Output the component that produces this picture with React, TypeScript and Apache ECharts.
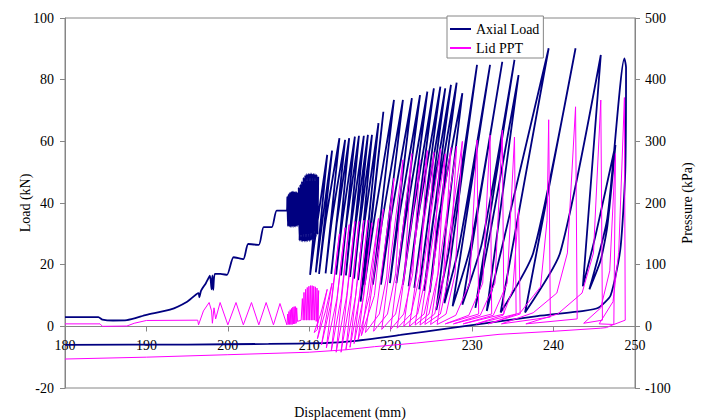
import React, { useEffect, useRef } from "react";
import * as echarts from "echarts";

// ---- Axial Load (kN), displacement (mm) ----
const loadApproach: number[][] = [
  [180, 3.0], [184.1, 3.0], [184.6, 2.2], [185.9, 1.9], [187.6, 2.0], [190.0, 3.7],
  [192.9, 5.4], [195.0, 8.0], [196.4, 10.8], [196.5, 9.4], [196.7, 11.5], [197.3, 14.0],
  [197.8, 16.4], [198.0, 12.0], [198.1, 16.5], [198.2, 11.8], [198.4, 17.0], [199.1, 17.0],
  [199.9, 16.7], [200.7, 22.4], [201.9, 21.8], [202.5, 26.7], [203.8, 26.4], [204.4, 32.2],
  [205.4, 32.2], [206.0, 37.5], [207.25, 37.5],
];
const loadBlock1: number[][] = [
  [207.3, 42.0], [207.38, 32.5], [207.46, 42.8], [207.54, 32.4], [207.62, 43.3], [207.7, 32.3],
  [207.78, 43.6], [207.86, 32.3], [207.94, 43.7], [208.02, 32.3], [208.1, 43.7], [208.18, 32.4],
  [208.26, 43.6], [208.34, 32.4], [208.42, 43.5], [208.5, 32.5], [208.58, 43.2], [208.66, 33.0],
];
const loadBlock2: number[][] = [
  [208.7, 45.0], [208.8, 27.8], [208.9, 46.0], [209.0, 27.6], [209.1, 47.0], [209.2, 27.5],
  [209.3, 48.2], [209.4, 27.5], [209.5, 49.0], [209.6, 27.5], [209.7, 49.4], [209.8, 27.6],
  [209.9, 49.5], [210.0, 27.6], [210.1, 49.6], [210.2, 27.8], [210.3, 49.6], [210.4, 28.0],
  [210.5, 49.5], [210.6, 28.5], [210.7, 49.4], [210.8, 29.0], [210.9, 49.2], [211.0, 30.0],
  [211.1, 48.5],
];
const loadCycles: number[][] = [
  [210.1, 16.7], [210.9, 32], [212.2, 55.6],
  [210.8, 17.5], [211.6, 34], [212.8, 57.0],
  [211.2, 17.0], [212.0, 34], [213.7, 61.0],
  [212.0, 17.2], [212.8, 35], [214.4, 60.5],
  [212.7, 17.0], [213.4, 34], [214.9, 61.0],
  [213.3, 16.8], [214.1, 35], [215.6, 61.5],
  [213.9, 16.5], [214.6, 34], [216.1, 61.8],
  [214.5, 16.5], [215.2, 34], [216.7, 61.8],
  [215.0, 16.0], [215.7, 33], [217.2, 62.1],
  [215.5, 15.5], [216.2, 33], [217.7, 62.1],
  [216.0, 15.0], [216.8, 34], [218.5, 65.9],
  [216.3, 8.0], [217.4, 30], [219.1, 69.6],
  [216.8, 13.5], [218.0, 35], [220.4, 73.4],
  [217.8, 13.5], [219.0, 35], [221.5, 73.4],
  [218.8, 13.5], [220.0, 35], [222.6, 74.0],
  [219.9, 14.0], [221.0, 35], [223.6, 75.0],
  [220.7, 14.0], [221.9, 36], [224.5, 76.1],
  [221.5, 13.5], [222.7, 36], [225.3, 77.2],
  [222.2, 13.0], [223.4, 36], [226.1, 77.7],
  [222.9, 12.5], [224.1, 36], [226.7, 77.2],
  [223.5, 12.0], [224.7, 36], [227.4, 78.3],
  [224.1, 11.5], [225.3, 36], [228.1, 79.0],
  [224.8, 11.0], [225.9, 35], [228.8, 75.6],
  [225.6, 5.3], [227.1, 24], [230.6, 84.8],
  [226.6, 7.5], [228.4, 26], [232.2, 84.8],
  [227.6, 6.5], [229.8, 26], [233.7, 85.8],
  [228.8, 7.0], [231.2, 27], [235.2, 86.4],
  [230.4, 6.0], [232.2, 30], [235.7, 81.5],
  [231.8, 5.0], [233.5, 23.8], [239.4, 90.2],
  [233.5, 4.5], [237.5, 23.8], [242.7, 90.2],
  [236.5, 4.5], [240.8, 23.8], [245.8, 88.0],
  [243.6, 13.0], [245.2, 30], [247.6, 58.8],
  [246.6, 32.4], [245.8, 21.6], [244.4, 12.0], [246.6, 35], [248.7, 86.9],
];
const loadUnload: number[][] = [
  [248.9, 84], [248.8, 50], [248.2, 25], [247.0, 10], [245.5, 6.0],
];
const loadExtraction: number[][] = [
  [243.7, 5.0], [238, 3.3], [233.1, 1.5], [227.3, -0.6], [221.2, -2.8], [215, -4.9],
  [212, -5.4], [205, -5.7], [195, -5.9], [180, -6.0],
];

// ---- Lid PPT (kPa) ----
const lidApproach: number[][] = [
  [180, 4], [184.3, 4], [184.6, 0], [187.6, 0.5], [188.5, 5], [190, 9.5], [196.3, 10],
  [196.4, 2.4], [197.0, 25], [197.7, 38.6], [198.0, 25], [198.1, 5], [198.3, 30], [198.5, 12],
  [199.05, 38.6], [200.0, 2.4], [201.0, 38.6], [201.9, 2.4], [202.9, 38.6], [203.8, 2.4],
  [204.7, 38.6], [205.6, 2.4], [206.4, 37], [207.25, 2.4],
];
const lidBlock1: number[][] = [
  [207.35, 20], [207.42, 3], [207.5, 24], [207.58, 3], [207.66, 27], [207.74, 3], [207.82, 29],
  [207.9, 3], [207.98, 31], [208.06, 4], [208.14, 32], [208.22, 4], [208.3, 32], [208.38, 5],
  [208.45, 30], [208.55, 8], [209.0, 10],
];
const lidBlock2: number[][] = [
  [209.15, 45], [209.25, 10], [209.35, 55], [209.45, 10], [209.55, 60], [209.65, 10],
  [209.75, 63], [209.85, 10], [209.95, 65], [210.05, 10], [210.15, 66], [210.25, 10],
  [210.35, 66], [210.45, 10], [210.55, 65], [210.65, 10], [210.75, 64], [210.85, 8],
  [210.95, 62], [211.05, 5], [211.15, 58], [211.0, -5],
];
const lidCycles: number[][] = [
  [210.6, -10], [211.4, 20], [212.2, 60],
  [211.0, -20], [212.0, 25], [212.8, 70],
  [211.5, -30], [212.7, 40], [213.7, 150],
  [212.1, -35], [213.4, 45], [214.4, 160],
  [212.7, -40], [213.9, 45], [214.9, 165],
  [213.3, -42], [214.6, 50], [215.6, 170],
  [213.9, -42], [215.1, 50], [216.1, 170],
  [214.5, -38], [215.7, 50], [216.7, 172],
  [215.0, -34], [216.2, 50], [217.2, 172],
  [215.5, -28], [216.7, 50], [217.7, 168],
  [216.0, -22], [217.4, 50], [218.5, 175],
  [216.4, -15], [218.0, 50], [219.1, 190],
  [216.9, -10], [218.6, 20], [219.5, 80], [220.4, 240],
  [217.9, -8], [219.6, 20], [220.6, 85], [221.5, 270],
  [218.9, -5], [220.6, 20], [221.7, 85], [222.6, 280],
  [220.0, -5], [221.6, 20], [222.7, 85], [223.6, 270],
  [220.8, -3], [222.5, 20], [223.6, 85], [224.5, 285],
  [221.6, 0], [223.3, 20], [224.4, 85], [225.3, 282],
  [222.3, 0], [224.1, 20], [225.2, 85], [226.1, 288],
  [223.0, 2], [224.7, 20], [225.8, 85], [226.7, 280],
  [223.6, 2], [225.4, 20], [226.5, 85], [227.4, 290],
  [224.2, 3], [226.1, 20], [227.2, 85], [228.1, 292],
  [224.9, 3], [226.8, 20], [227.9, 85], [228.8, 300],
  [225.7, 3], [228.0, 18], [229.7, 70], [230.6, 302], [230.8, 20],
  [226.7, 4], [229.6, 18], [231.3, 70], [232.2, 310], [232.4, 20],
  [227.7, 4], [231.0, 18], [232.8, 70], [233.7, 318], [233.9, 20],
  [228.9, 4], [232.6, 18], [234.3, 70], [235.2, 307], [235.4, 20],
  [230.5, 4], [233.8, 18], [235.0, 60], [235.7, 189], [235.9, 20],
  [232.0, 4], [235.9, 22], [238.4, 64], [239.2, 172], [239.4, 335], [239.6, 15],
  [233.6, 4], [237.5, 22], [240.4, 54], [241.7, 119], [242.7, 356], [242.9, 12],
  [236.6, 4], [240.5, 20], [243.5, 54], [244.9, 119], [245.8, 367], [246.0, 10],
  [243.7, 5], [245.8, 30], [246.9, 90], [247.6, 280], [247.4, 3],
  [245.6, 4], [247.3, 40], [248.0, 120], [248.7, 371], [248.8, 10],
];
const lidReturn: number[][] = [
  [247.2, 2], [246.5, -2], [245.8, -3], [240, -8], [233.3, -13], [223.2, -27], [218, -33],
  [214.5, -38], [210, -42], [200, -46], [190, -50], [180, -53],
];

const xTicks = { min: 180, max: 250, interval: 10 };
const loadTicks = { min: -20, max: 100, interval: 20 };
const pressureTicks = { min: -100, max: 500, interval: 100 };

const FONT = "Liberation Serif";
const GREY = "#868686";

export default function App() {
  const ref = useRef<HTMLDivElement>(null);
  useEffect(() => {
    if (!ref.current) return;
    const chart = echarts.init(ref.current, null, { renderer: "svg" });
    const loadData = [
      ...loadApproach, ...loadBlock1, ...loadBlock2, ...loadCycles, ...loadUnload, ...loadExtraction,
    ];
    const lidData = [...lidApproach, ...lidBlock1, ...lidBlock2, ...lidCycles, ...lidReturn];
    const axisLabel = { color: "#000", fontSize: 14, fontFamily: FONT };
    chart.setOption({
      animation: false,
      backgroundColor: "#fff",
      textStyle: { fontFamily: FONT },
      grid: {
        left: 65, right: 67, top: 18, bottom: 32,
        show: true, borderColor: GREY, borderWidth: 1, backgroundColor: "transparent",
      },
      legend: {
        left: 447, top: 16, orient: "vertical",
        itemWidth: 21, itemHeight: 2, itemGap: 5,
        padding: [6, 4, 3, 3],
        backgroundColor: "#fff", borderColor: GREY, borderWidth: 1,
        textStyle: { fontFamily: FONT, fontSize: 14, color: "#000", lineHeight: 14 },
        data: [
          { name: "Axial Load", icon: "rect" },
          { name: "Lid PPT", icon: "rect" },
        ],
      },
      xAxis: {
        type: "value", ...xTicks,
        position: "bottom", offset: -61.5,
        axisLine: { show: true, onZero: false, lineStyle: { color: GREY, width: 1 } },
        axisTick: { show: true, inside: false, length: 5, lineStyle: { color: GREY } },
        axisLabel: { ...axisLabel, margin: 12 },
        splitLine: { show: false },
      },
      yAxis: [
        {
          type: "value", position: "left", ...loadTicks,
          name: "Load (kN)", nameLocation: "middle", nameRotate: 90, nameGap: 33,
          nameMoveOverlap: false,
          nameTextStyle: { color: "#000", fontSize: 14, fontFamily: FONT },
          axisLine: { show: true, lineStyle: { color: GREY, width: 1 } },
          axisTick: { show: true, inside: false, length: 5, lineStyle: { color: GREY } },
          axisLabel: { ...axisLabel, margin: 11 },
          splitLine: { show: false },
        },
        {
          type: "value", position: "right", ...pressureTicks,
          name: "Pressure (kPa)", nameLocation: "middle", nameRotate: 90, nameGap: 45,
          nameMoveOverlap: false,
          nameTextStyle: { color: "#000", fontSize: 14, fontFamily: FONT },
          axisLine: { show: true, lineStyle: { color: GREY, width: 1 } },
          axisTick: { show: true, inside: false, length: 5, lineStyle: { color: GREY } },
          axisLabel: { ...axisLabel, margin: 10 },
          splitLine: { show: false },
        },
      ],
      series: [
        {
          name: "Axial Load", type: "line", yAxisIndex: 0, data: loadData,
          showSymbol: false, symbol: "none", color: "#000080", smooth: 0.2,
          lineStyle: { color: "#000080", width: 1.8 }, z: 2,
        },
        {
          name: "Lid PPT", type: "line", yAxisIndex: 1, data: lidData,
          showSymbol: false, symbol: "none", color: "#FF00FF",
          lineStyle: { color: "#FF00FF", width: 1 }, z: 3,
        },
      ],
      graphic: [
        {
          type: "text", x: 350, y: 412,
          style: {
            text: "Displacement (mm)", fill: "#000", font: `14px "${FONT}"`,
            align: "center", verticalAlign: "middle",
          },
        },
      ],
    });
    return () => chart.dispose();
  }, []);
  return <div ref={ref} style={{ position: "fixed", left: 0, top: 0, width: 702, height: 420 }} />;
}
